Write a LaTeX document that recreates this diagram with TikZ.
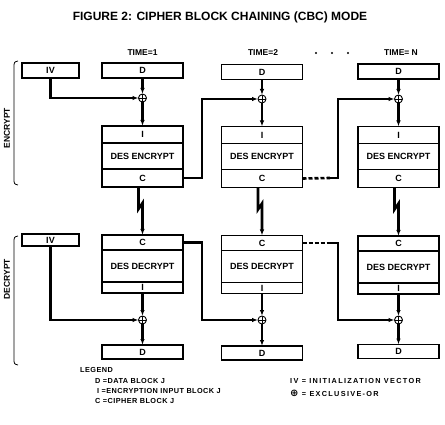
\documentclass[tikz,border=0pt]{standalone}
\usepackage{fontspec}
\setmainfont{Liberation Sans}
\newfontfamily\symfont{DejaVu Sans}
\newfontfamily\legfont[LetterSpace=6]{Liberation Sans}
\newfontfamily\legwidefont[LetterSpace=18]{Liberation Sans}
\usetikzlibrary{positioning, arrows.meta}
\tikzset{
  blk/.style={rectangle, draw=black, line width=1.4pt, minimum width=81pt, inner sep=0pt, outer sep=0pt, font=\bfseries\fontsize{9}{10}\selectfont},
  ivbox/.style={blk, minimum width=57pt},
  xorc/.style={circle, draw=black, fill=white, line width=0.9pt, minimum size=8pt, inner sep=0pt, outer sep=0pt,
    path picture={\draw[line width=0.7pt] (path picture bounding box.north) -- (path picture bounding box.south)
      (path picture bounding box.west) -- (path picture bounding box.east);}},
  flow/.style={line width=2.6pt, -{Latex[length=6pt,width=4.5pt]}},
  plain/.style={line width=2.6pt},
  lbl/.style={font=\bfseries\fontsize{8.5}{9}\selectfont},
  legtxt/.style={anchor=west, inner sep=0pt, font=\legfont\bfseries\fontsize{7.3}{8}\selectfont},
  legwide/.style={legtxt, font=\legwidefont\bfseries\fontsize{7.3}{8}\selectfont}
}

\begin{document}
\begin{tikzpicture}[x=1pt, y=-1pt]
    \useasboundingbox (0,0) rectangle (445,425);

    \node (title) at (220,17) {\bfseries\fontsize{12}{13}\selectfont FIGURE 2: CIPHER BLOCK CHAINING (CBC) MODE};

    % Tiempos
    \node (t1) [lbl] at (142.5,53) {TIME=1};
    \node (t2) [lbl] at (263,53) {TIME=2};
    \node (tn) [lbl] at (401,53) {TIME= N};
    \fill (316,53) circle (1.2pt) (332,53) circle (1.2pt) (348,53) circle (1.2pt);

    % Cifrado
    \node (ivE) [ivbox, minimum height=15pt] at (50.5,70.5) {IV};
    \node (dE1) [blk, minimum height=15pt] at (142.5,70.5) {D};
    \node (dE2) [blk, minimum height=15pt] at (262,72) {D};
    \node (dE3) [blk, minimum height=15pt] at (398.5,71.5) {D};

    \node (xE1) [xorc] at (142.5,98) {};
    \node (xE2) [xorc] at (262,99) {};
    \node (xE3) [xorc] at (398.5,99) {};

    \node (iE1) [blk, minimum height=17pt] at (142.5,134.5) {I};
    \node (bE1) [blk, minimum height=26pt, below=0pt of iE1] {DES ENCRYPT};
    \node (cE1) [blk, minimum height=18pt, below=0pt of bE1] {C};

    \node (iE2) [blk, minimum height=17pt] at (262,135) {I};
    \node (bE2) [blk, minimum height=26pt, below=0pt of iE2] {DES ENCRYPT};
    \node (cE2) [blk, minimum height=18pt, below=0pt of bE2] {C};

    \node (iE3) [blk, minimum height=17pt] at (398.5,135) {I};
    \node (bE3) [blk, minimum height=26pt, below=0pt of iE3] {DES ENCRYPT};
    \node (cE3) [blk, minimum height=18pt, below=0pt of bE3] {C};

    % Descifrado
    \node (ivD) [ivbox, minimum height=12pt] at (50.5,240) {IV};

    \node (cD1) [blk, minimum height=15pt] at (142.5,242.5) {C};
    \node (bD1) [blk, minimum height=32pt, below=0pt of cD1] {DES DECRYPT};
    \node (iD1) [blk, minimum height=11pt, below=0pt of bD1] {I};

    \node (cD2) [blk, minimum height=15pt] at (262,243) {C};
    \node (bD2) [blk, minimum height=32pt, below=0pt of cD2] {DES DECRYPT};
    \node (iD2) [blk, minimum height=11pt, below=0pt of bD2] {I};

    \node (cD3) [blk, minimum height=15pt] at (398.5,243.5) {C};
    \node (bD3) [blk, minimum height=32pt, below=0pt of cD3] {DES DECRYPT};
    \node (iD3) [blk, minimum height=11pt, below=0pt of bD3] {I};

    \node (xD1) [xorc] at (142.5,320) {};
    \node (xD2) [xorc] at (262,320) {};
    \node (xD3) [xorc] at (398.5,320) {};

    \node (dD1) [blk, minimum height=14pt] at (142.5,352) {D};
    \node (dD2) [blk, minimum height=14pt] at (262,353) {D};
    \node (dD3) [blk, minimum height=14pt] at (398.5,351.5) {D};

    \coordinate (sE3) at (330,178);
    \coordinate (sD3) at (330,243);

    % Flechas cifrado
    \draw [flow] (ivE.south) |- (xE1.west);
    \draw [flow] (dE1) -- (xE1);
    \draw [flow] (dE2) -- (xE2);
    \draw [flow] (dE3) -- (xE3);
    \draw [flow] (xE1) -- (iE1);
    \draw [flow] (xE2) -- (iE2);
    \draw [flow] (xE3) -- (iE3);
    \draw [flow] (cE1.east) -| (202,110) |- (xE2.west);
    \draw [plain, dashed, dash pattern=on 4pt off 2pt] (cE2.east) -- (sE3);
    \draw [flow] (sE3) -| (338,110) |- (xE3.west);

    % Paso al descifrado
    \draw [flow] ([xshift=-4pt]cE1.south) -- ++(0,22) -- ++(4,-6) -- (cD1.north);
    \draw [flow] ([xshift=-4pt]cE2.south) -- ++(0,22) -- ++(4,-6) -- (cD2.north);
    \draw [flow] ([xshift=-4pt]cE3.south) -- ++(0,22) -- ++(4,-6) -- (cD3.north);

    % Flechas descifrado
    \draw [flow] (ivD.south) |- (xD1.west);
    \draw [flow] (iD1) -- (xD1);
    \draw [flow] (iD2) -- (xD2);
    \draw [flow] (iD3) -- (xD3);
    \draw [flow] (xD1) -- (dD1);
    \draw [flow] (xD2) -- (dD2);
    \draw [flow] (xD3) -- (dD3);
    \draw [flow] (cD1.east) -| (202,300) |- (xD2.west);
    \draw [plain, dashed, dash pattern=on 4pt off 2pt] (cD2.east) -- (sD3);
    \draw [flow] (sD3) -| (338,300) |- (xD3.west);

    % Llaves laterales
    \draw [line width=0.8pt] (18,61) .. controls (14,62) .. (14,68) -- (14,178) .. controls (14,184) .. (18,185);
    \draw [line width=0.8pt] (18,236) .. controls (14,237) .. (14,243) -- (14,358) .. controls (14,364) .. (18,365);
    \node (encl) [lbl, rotate=90] at (7,128) {ENCRYPT};
    \node (decl) [lbl, rotate=90] at (7,279) {DECRYPT};

    % Leyenda
    \node (leg) [legtxt] at (80,370) {LEGEND};
    \node (legD) [legtxt] at (95,381) {D =DATA BLOCK J};
    \node (legI) [legtxt] at (97,391) {I =ENCRYPTION INPUT BLOCK J};
    \node (legC) [legtxt] at (95,401) {C =CIPHER BLOCK J};
    \node (legIV) [legwide] at (290,381) {IV = INITIALIZATION VECTOR};
    \node (legX) [legwide] at (290,393) {{\symfont\fontsize{10}{10}\selectfont ⊕}\ = EXCLUSIVE-OR};

\end{tikzpicture}
\end{document}
